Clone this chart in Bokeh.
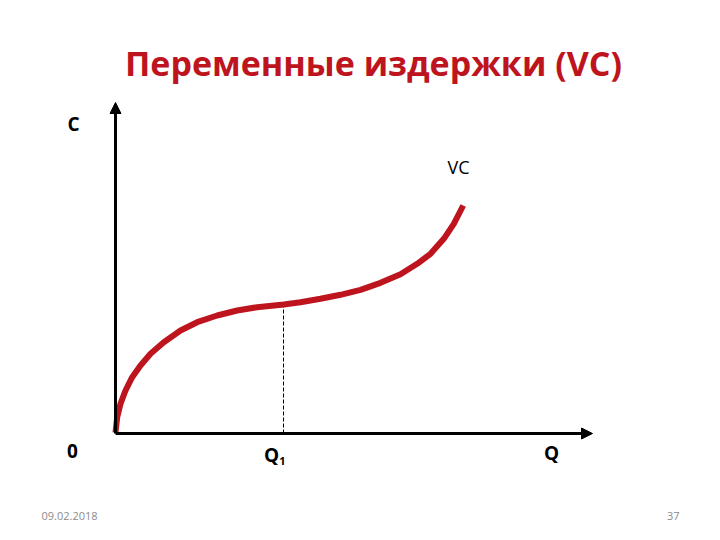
from bokeh.plotting import figure
from bokeh.models import Range1d, Label, Arrow, NormalHead
from bokeh.embed import file_html
from bokeh.resources import INLINE

# ---- data (Q, C) ----
q_values = [0.0, 0.17, 0.5, 1.0, 1.67, 2.5, 3.5, 4.83, 6.5, 8.17, 10.17, 12.17, 14.17, 16.83,
            18.5, 20.5, 22.5, 24.5, 26.5, 28.5, 30.17, 31.5, 32.83, 33.83, 34.77]
vc_values = [0.1, 1.63, 2.97, 4.3, 5.63, 6.8, 7.97, 9.13, 10.3, 11.13, 11.8, 12.3, 12.63, 12.9,
             13.13, 13.47, 13.87, 14.37, 15.07, 15.93, 16.97, 17.97, 19.47, 20.97, 22.8]
q1 = 16.8
vc_at_q1 = 12.9
q_axis_max = 47.7
c_axis_max = 33.1

title_text = "Переменные издержки (VC)"
date_text = "09.02.2018"
page_text = "37"

RED = "#BE141E"
FONT = "Open Sans"

p = figure(width=704, height=524, output_backend="svg", toolbar_location=None,
           x_range=Range1d(-11.5, 58.9), y_range=Range1d(-9.1, 43.3),
           x_axis_type=None, y_axis_type=None, min_border=0)
p.outline_line_color = None
p.grid.visible = False
p.background_fill_color = "white"

# axes with arrows
p.add_layout(Arrow(end=NormalHead(size=11, fill_color="black", line_color="black", line_width=1),
                   x_start=0, y_start=0, x_end=q_axis_max, y_end=0,
                   line_width=3, line_color="black"))
p.add_layout(Arrow(end=NormalHead(size=11, fill_color="black", line_color="black", line_width=1),
                   x_start=0, y_start=0, x_end=0, y_end=c_axis_max,
                   line_width=3, line_color="black"))

# dashed guide at Q1
p.line([q1, q1], [0, vc_at_q1], line_color="black", line_width=1, line_dash="4 2")

# VC curve
p.line(q_values, vc_values, line_color=RED, line_width=6, line_join="round", line_cap="butt")

def lab(text, x, y, size, bold=True, color="black", align="center", baseline="middle"):
    p.add_layout(Label(x=x, y=y, text=text, text_font=FONT, text_font_size=f"{size}px",
                       text_font_style="bold" if bold else "normal", text_color=color,
                       text_align=align, text_baseline=baseline))

lab(title_text, 25.8, 37.1, 34, color=RED)
lab("C", -4.2, 31.0, 19)
lab("0", -4.3, -1.7, 19)
lab("Q", 15.6, -2.1, 19)
lab("1", 16.7, -2.7, 11)
lab("Q", 43.6, -1.9, 19)
lab("VC", 34.3, 26.7, 18, bold=False)
lab(date_text, -7.4, -8.2, 11, bold=False, color="#8C8C8C", align="left")
lab(page_text, 56.4, -8.2, 11, bold=False, color="#8C8C8C", align="right")

open("out.html", "w").write(file_html(p, INLINE))
